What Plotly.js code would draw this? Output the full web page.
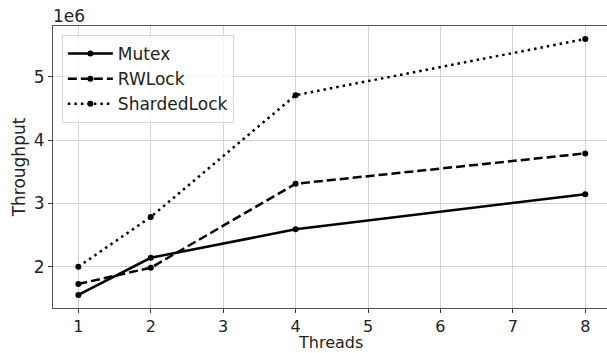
<!DOCTYPE html>
<html>
<head>
<meta charset="utf-8">
<script src="https://cdn.plot.ly/plotly-3.0.1.min.js"></script>
<style>html,body{margin:0;padding:0;background:#fff;}#chart{width:607px;height:353px;}</style>
</head>
<body>
<div id="chart"></div>
<script>
const threads = [1, 2, 4, 8];
const mutex = [1.554e6, 2.141e6, 2.59e6, 3.146e6];
const rwlock = [1.727e6, 1.984e6, 3.31e6, 3.79e6];
const sharded = [2.0e6, 2.785e6, 4.71e6, 5.597e6];
const seriesNames = ['Mutex', 'RWLock', 'ShardedLock'];
const xTicks = [1, 2, 3, 4, 5, 6, 7, 8];
const yTicks = [2e6, 3e6, 4e6, 5e6];
const yTickText = ['2', '3', '4', '5'];

const font = 'DejaVu Sans, sans-serif';
function trace(y, name, dash) {
  return {
    x: threads, y: y, name: name, type: 'scatter', mode: 'lines+markers',
    line: {color: '#000', width: 2.5, dash: dash},
    marker: {color: '#000', size: 6}
  };
}
const data = [
  trace(mutex, seriesNames[0], 'solid'),
  trace(rwlock, seriesNames[1], '9px,4px'),
  trace(sharded, seriesNames[2], '2.5px,4px')
];
const layout = {
  width: 607, height: 353,
  margin: {l: 53, r: 0, t: 26, b: 45},
  paper_bgcolor: '#fff', plot_bgcolor: '#fff',
  font: {family: font, size: 17, color: '#222'},
  showlegend: true,
  legend: {
    x: 0.016, y: 0.968, xanchor: 'left', yanchor: 'top',
    bgcolor: 'rgba(255,255,255,0.8)', bordercolor: '#d8d8d8', borderwidth: 1,
    itemwidth: 45,
    font: {family: font, size: 17, color: '#222'}
  },
  xaxis: {
    range: [0.65, 8.3], tickvals: xTicks, ticks: 'outside', ticklen: 3.5, tickcolor: '#333',
    showgrid: true, gridcolor: '#d3d3d3', gridwidth: 1,
    showline: true, linecolor: '#555', linewidth: 1, mirror: true, zeroline: false,
    tickfont: {size: 16}
  },
  yaxis: {
    range: [1.3475e6, 5.8025e6], tickvals: yTicks, ticktext: yTickText,
    ticks: 'outside', ticklen: 4, tickcolor: '#333',
    showgrid: true, gridcolor: '#d3d3d3', gridwidth: 1,
    showline: true, linecolor: '#555', linewidth: 1, zeroline: false,
    title: {text: 'Throughput', font: {size: 17}, standoff: 3},
    tickfont: {size: 17}
  },
  annotations: [{
    text: '1e6', xref: 'paper', yref: 'paper', x: 0, y: 1, xanchor: 'left', yanchor: 'bottom',
    showarrow: false, font: {size: 17, color: '#222'}, xshift: -2, yshift: -2
  }, {
    text: 'Threads', xref: 'paper', yref: 'paper', x: 0.5, y: 0, xanchor: 'center', yanchor: 'top',
    showarrow: false, font: {size: 16, color: '#222'}, yshift: -24, borderpad: 0
  }]
};
Plotly.newPlot('chart', data, layout, {displayModeBar: false, staticPlot: true});
</script>
</body>
</html>
